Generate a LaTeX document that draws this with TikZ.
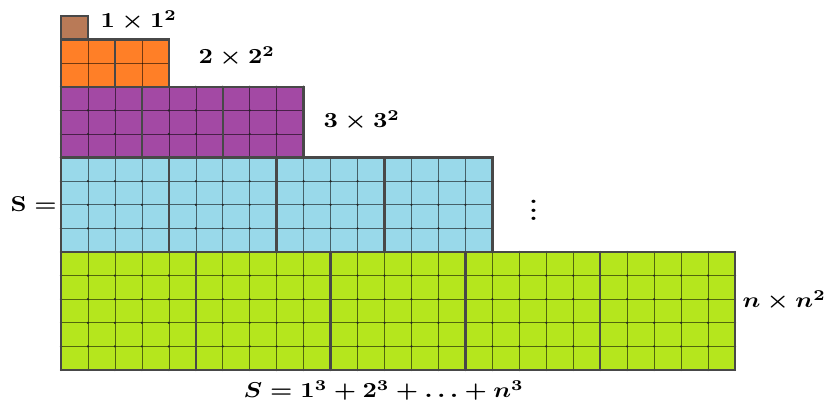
\documentclass[tikz,border=0pt]{standalone}
\usepackage{amsmath,bm}
\definecolor{cbrown}{RGB}{185,122,87}
\definecolor{corange}{RGB}{255,127,39}
\definecolor{cpurple}{RGB}{163,73,164}
\definecolor{cblue}{RGB}{153,217,234}
\definecolor{cgreen}{RGB}{181,230,29}
\definecolor{cline}{RGB}{72,72,72}
\newcommand\stairrow[3]{%
  \pgfmathtruncatemacro\kk{#1*#1}%
  \fill[#3] (0,#2) rectangle (\kk,#2+#1);
  \ifnum#1>1
    \pgfmathtruncatemacro\km{\kk-1}%
    \pgfmathtruncatemacro\hm{#1-1}%
    \foreach \i in {1,...,\km} \draw[gridline] (\i,#2) -- (\i,#2+#1);
    \foreach \j in {1,...,\hm} \draw[gridline] (0,#2+\j) -- (\kk,#2+\j);
    \ifnum#1>2
      \foreach \i in {0,...,\kk} \foreach \j in {0,...,#1} \fill[dotfill] (\i,#2+\j) circle (1.2pt);
    \fi
    \foreach \b in {1,...,\hm} \draw[blockline] (\b*#1,#2) -- (\b*#1,#2+#1);
  \fi
  \draw[blockline] (0,#2) rectangle (\kk,#2+#1);
}
\tikzset{
  gridline/.style={draw=black, draw opacity=0.55, line width=0.6pt},
  blockline/.style={draw=cline, line width=2.4pt, line join=miter},
  dotfill/.style={fill=black!85},
  lbl/.style={anchor=base west, inner sep=0pt, font=\boldmath\bfseries, xscale=2.5, yscale=2.15, transform shape},
}
\begin{document}
\begin{tikzpicture}
\useasboundingbox (0pt,0pt) rectangle (829pt,409pt);
\begin{scope}[shift={(61pt,39pt)}, x=26.96pt, y=23.6pt]
  \stairrow{5}{0}{cgreen}
  \stairrow{4}{5}{cblue}
  \stairrow{3}{9}{cpurple}
  \stairrow{2}{12}{corange}
  \stairrow{1}{14}{cbrown}
\end{scope}
\node[lbl] (l1) at (100pt,381pt) {$1\times 1^2$};
\node[lbl] (l2) at (198pt,345pt) {$2\times 2^2$};
\node[lbl] (l3) at (323pt,281pt) {$3\times 3^2$};
\node[lbl] (ldots) at (529pt,188pt) {\vdots};
\node[lbl] (ln) at (742pt,101pt) {$n\times n^2$};
\node[lbl] (ls) at (10pt,197pt) {$\mathbf{S}=$};
\node[lbl] (lsum) at (243pt,11pt) {$S=1^3+2^3+\ldots+n^3$};
\end{tikzpicture}
\end{document}
